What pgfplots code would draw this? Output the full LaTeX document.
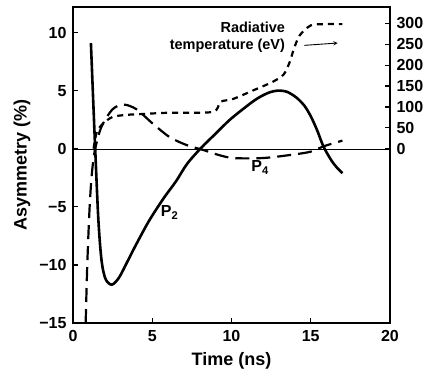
\documentclass[border=0pt]{standalone}
\usepackage{pgfplots}
\pgfplotsset{compat=1.18}
\usepackage{fontspec}
\setmainfont{Liberation Sans}
\begin{document}
\begin{tikzpicture}
\pgfplotsset{
  common/.style={
    scale only axis, width=317pt, height=316pt,
    xmin=0, xmax=20,
    tick style={line width=1.2pt, black},
    major tick length=5pt,
    tick align=inside,
    /pgf/number format/assume math mode=true,
    ticklabel style={font=\fontsize{16}{16}\selectfont\bfseries},
    axis line style={line width=1.6pt},
  }
}
\begin{axis}[common,
  ymin=-15, ymax=12.2,
  xtick={0,5,10,15,20}, ytick={-15,-10,-5,0,5,10},
  yticklabels={−15,−10,−5,0,5,10},
  xtick pos=bottom, ytick pos=left,
  xticklabel style={yshift=-4pt},
  yticklabel style={xshift=-3pt},
  xlabel={Time (ns)}, ylabel={Asymmetry (\%)},
  label style={font=\fontsize{18}{18}\selectfont\bfseries},
  xlabel style={yshift=-4pt},
  ylabel style={yshift=2pt},
]
\addplot[thin, black] coordinates {(0,0) (20,0)};
% P2
\addplot[black, line width=2.6pt, smooth, tension=0.5] coordinates {
  (1.13,9.1) (1.25,5) (1.4,0) (1.6,-6.1) (1.8,-9.6) (2.05,-11.2) (2.45,-11.7)
  (2.9,-11.1) (3.4,-9.8) (4.0,-8.2) (4.8,-6.2) (5.7,-4.3) (6.5,-2.8) (7.2,-1.3)
  (8.1,0.1) (9.0,1.3) (9.9,2.5) (10.9,3.6) (11.6,4.3) (12.3,4.8) (12.9,5.0)
  (13.5,4.9) (14.1,4.4) (14.6,3.7) (15.0,2.8) (15.4,1.6) (15.8,0.2)
  (16.3,-1.0) (16.7,-1.7) (17.0,-2.1)
};
% P4
\addplot[black, line width=2.2pt, dash pattern=on 14pt off 7pt, smooth, tension=0.5] coordinates {
  (0.8,-15) (0.9,-10) (1.05,-5) (1.2,-2) (1.4,0) (1.8,1.9) (2.5,3.4) (3.2,3.8)
  (4.0,3.4) (5.0,2.2) (6.1,1.0) (7.2,0.3) (8.2,-0.1) (9.1,-0.5) (10.1,-0.8)
  (12.0,-0.8) (13.9,-0.5) (15.0,-0.25) (15.8,0.2) (16.5,0.5) (17.0,0.7)
};
\node[font=\fontsize{16}{16}\selectfont\bfseries] at (axis cs:6.1,-5.5) {P$_{\mathbf{2}}$};
\node[font=\fontsize{16}{16}\selectfont\bfseries] at (axis cs:11.8,-1.6) {P$_{\mathbf{4}}$};
\node[font=\fontsize{14.5}{17}\selectfont\bfseries, align=right, anchor=east] at (axis cs:13.6,9.6) {Radiative\\temperature (eV)};
\draw[-stealth, line width=0.9pt] (axis cs:14.6,8.9) -- (axis cs:16.7,9.1);
\end{axis}
\begin{axis}[common,
  ymin=-417, ymax=339,
  axis x line=none, axis y line*=right,
  ytick={0,50,100,150,200,250,300},
  ytick pos=right,
  yticklabel style={xshift=3pt},
]
% Radiative temperature (eV)
\addplot[black, line width=2.2pt, dash pattern=on 6pt off 5pt, smooth, tension=0.5] coordinates {
  (1.3,0) (1.5,40) (1.9,60) (2.5,76) (3.4,81) (4.4,83) (6,86) (8.8,88)
  (9.3,112) (10.1,119) (11.4,140) (12.6,160) (13.3,178) (13.7,210) (13.9,235)
  (14.3,271) (15.0,295) (15.8,298) (17.0,298)
};
\end{axis}
\pgfresetboundingbox
\path[use as bounding box] (-73pt,-53pt) rectangle (364pt,323pt);
\end{tikzpicture}
\end{document}
